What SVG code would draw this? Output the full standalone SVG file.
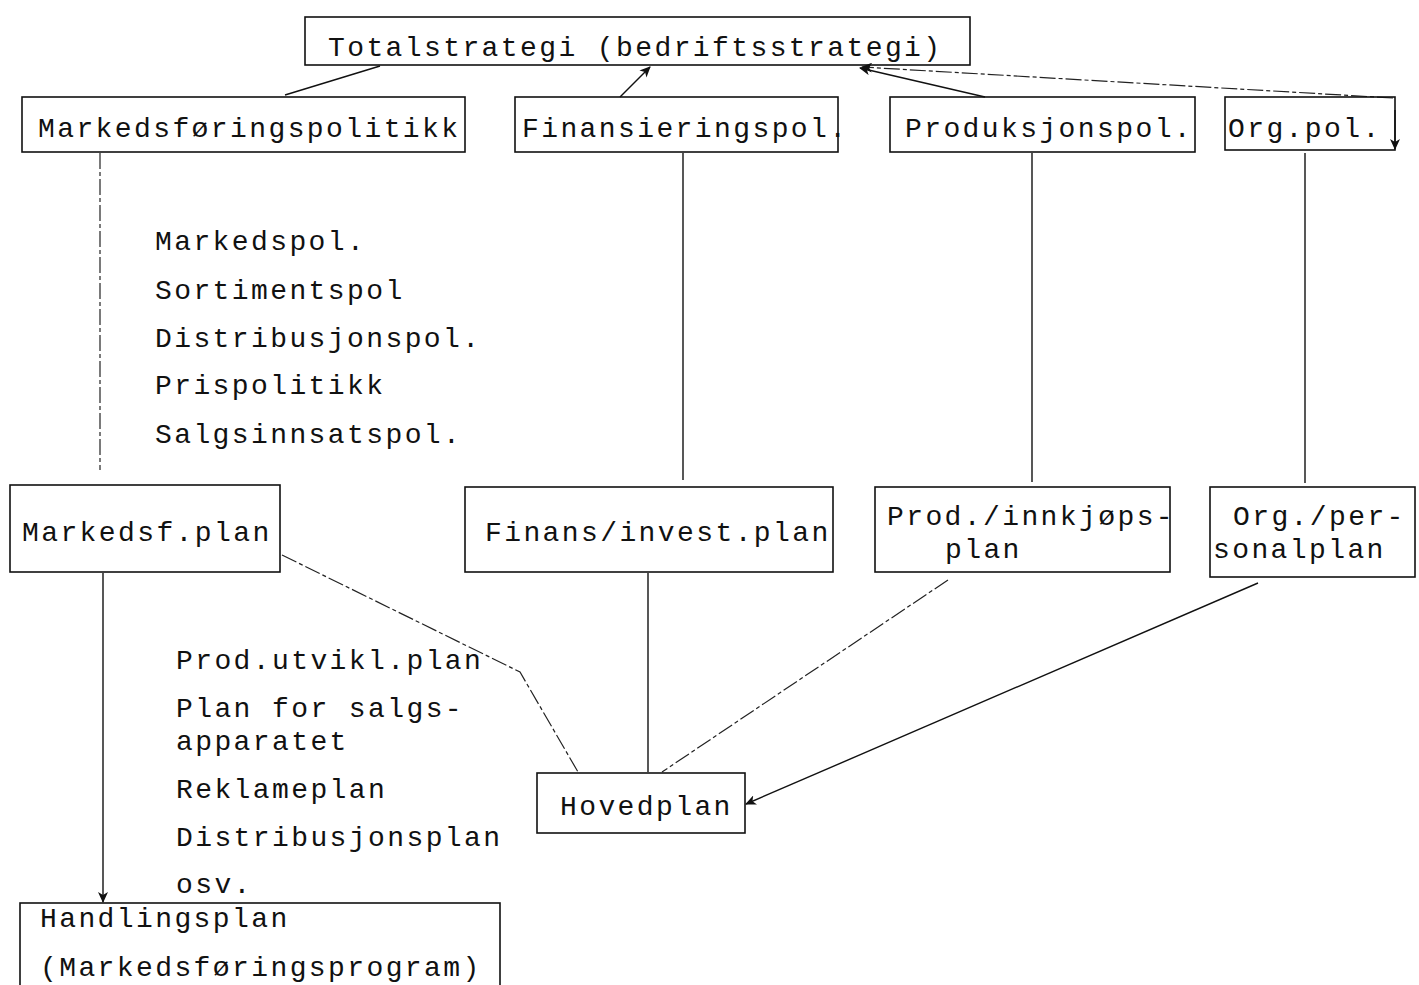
<svg xmlns="http://www.w3.org/2000/svg" width="1419" height="985" viewBox="0 0 1419 985">
<style>
.box{fill:none;stroke:#111;stroke-width:1.6}
.t{font-family:"Liberation Mono","DejaVu Sans Mono",monospace;font-size:28px;letter-spacing:2.4px;fill:#111}
.c{fill:none;stroke:#111;stroke-width:1.4}
.cd{fill:none;stroke:#222;stroke-width:1.2;stroke-dasharray:16 3 4 3}
</style>
<defs>
<marker id="ah" markerWidth="12" markerHeight="10" refX="10" refY="5" orient="auto" markerUnits="userSpaceOnUse">
<path d="M0,0 L11,5 L0,10 L3,5 Z" fill="#111"/>
</marker>
</defs>
<rect width="1419" height="985" fill="#fff"/>
<g id="connectors">
<line class="c" x1="285" y1="95" x2="380" y2="66"/>
<line class="c" x1="620" y1="97" x2="650" y2="67" marker-end="url(#ah)"/>
<line class="c" x1="985" y1="97" x2="860" y2="68" marker-end="url(#ah)"/>
<line class="cd" x1="1393" y1="98" x2="862" y2="67" marker-end="url(#ah)"/>
<line class="c" x1="1395" y1="110" x2="1395" y2="149" marker-end="url(#ah)"/>
<line class="cd" x1="100" y1="153" x2="100" y2="470"/>
<line class="c" x1="683" y1="153" x2="683" y2="480"/>
<line class="c" x1="1032" y1="153" x2="1032" y2="482"/>
<line class="c" x1="1305" y1="153" x2="1305" y2="483"/>
<line class="c" x1="103" y1="573" x2="103" y2="902" marker-end="url(#ah)"/>
<polyline class="cd" points="282,555 520,672 578,772"/>
<line class="c" x1="648" y1="573" x2="648" y2="772"/>
<line class="cd" x1="948" y1="580" x2="662" y2="772"/>
<line class="c" x1="1258" y1="583" x2="746" y2="804" marker-end="url(#ah)"/>
</g>
<g id="n-total">
<rect class="box" x="305" y="17" width="665" height="48"/>
<text class="t" x="328" y="56">Totalstrategi (bedriftsstrategi)</text>
</g>
<g id="n-markpol">
<rect class="box" x="22" y="97" width="443" height="55"/>
<text class="t" x="38" y="137">Markedsføringspolitikk</text>
</g>
<g id="n-finpol">
<rect class="box" x="515" y="97" width="323" height="55"/>
<text class="t" x="522" y="137">Finansieringspol.</text>
</g>
<g id="n-prodpol">
<rect class="box" x="890" y="97" width="305" height="55"/>
<text class="t" x="905" y="137">Produksjonspol.</text>
</g>
<g id="n-orgpol">
<rect class="box" x="1225" y="97" width="170" height="53"/>
<text class="t" x="1228" y="137">Org.pol.</text>
</g>
<g id="markpol-list">
<text class="t" x="155" y="250">Markedspol.</text>
<text class="t" x="155" y="299">Sortimentspol</text>
<text class="t" x="155" y="347">Distribusjonspol.</text>
<text class="t" x="155" y="394">Prispolitikk</text>
<text class="t" x="155" y="443">Salgsinnsatspol.</text>
</g>
<g id="n-markplan">
<rect class="box" x="10" y="485" width="270" height="87"/>
<text class="t" x="22" y="541">Markedsf.plan</text>
</g>
<g id="n-finplan">
<rect class="box" x="465" y="487" width="368" height="85"/>
<text class="t" x="485" y="541">Finans/invest.plan</text>
</g>
<g id="n-prodplan">
<rect class="box" x="875" y="487" width="295" height="85"/>
<text class="t" x="887" y="525">Prod./innkjøps-</text>
<text class="t" x="945" y="558">plan</text>
</g>
<g id="n-orgplan">
<rect class="box" x="1210" y="487" width="205" height="90"/>
<text class="t" x="1233" y="525">Org./per-</text>
<text class="t" x="1213" y="558">sonalplan</text>
</g>
<g id="markplan-list">
<text class="t" x="176" y="669">Prod.utvikl.plan</text>
<text class="t" x="176" y="717">Plan for salgs-</text>
<text class="t" x="176" y="750">apparatet</text>
<text class="t" x="176" y="798">Reklameplan</text>
<text class="t" x="176" y="846">Distribusjonsplan</text>
<text class="t" x="176" y="893">osv.</text>
</g>
<g id="n-hoved">
<rect class="box" x="537" y="773" width="208" height="60"/>
<text class="t" x="560" y="815">Hovedplan</text>
</g>
<g id="n-handling">
<rect class="box" x="20" y="903" width="480" height="90"/>
<text class="t" x="40" y="927">Handlingsplan</text>
<text class="t" x="40" y="976">(Markedsføringsprogram)</text>
</g>
</svg>
